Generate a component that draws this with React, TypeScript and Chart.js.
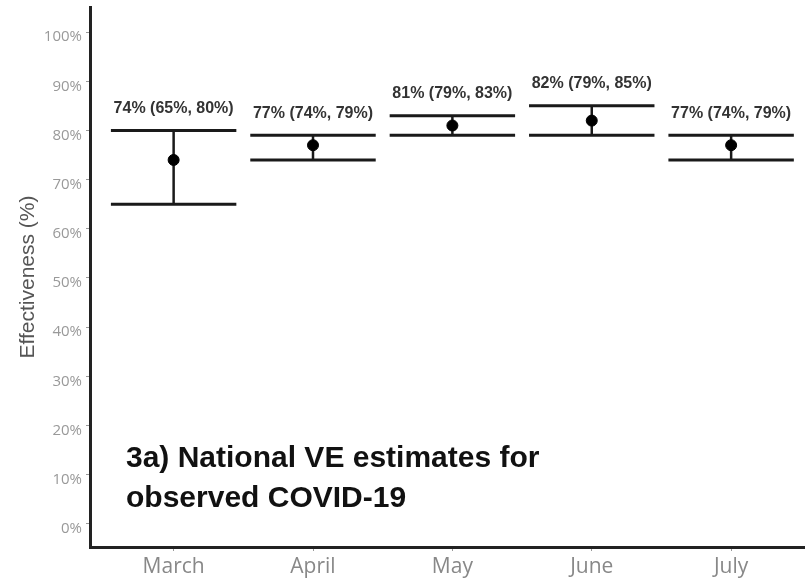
import React, { useEffect, useRef } from "react";
import { Chart, registerables } from "chart.js";

Chart.register(...registerables);

const months = ["March", "April", "May", "June", "July"];
const estimates = [74, 77, 81, 82, 77];
const lowerCI = [65, 74, 79, 79, 74];
const upperCI = [80, 79, 83, 85, 79];
const yTickValues = [0, 10, 20, 30, 40, 50, 60, 70, 80, 90, 100];
const annotationLines = ["3a) National VE estimates for", "observed COVID-19"];

const errorBarPlugin = {
  id: "errorBars",
  beforeDatasetsDraw(chart: any) {
    const { ctx, scales } = chart;
    const xs = scales.x;
    const ys = scales.y;
    ctx.save();
    ctx.strokeStyle = "#1a1a1a";
    ctx.lineCap = "butt";
    months.forEach((_, i) => {
      const xc = xs.getPixelForValue(i);
      const xl = xs.getPixelForValue(i - 0.45);
      const xr = xs.getPixelForValue(i + 0.45);
      const yl = ys.getPixelForValue(lowerCI[i]);
      const yu = ys.getPixelForValue(upperCI[i]);
      ctx.lineWidth = 2.5;
      ctx.beginPath();
      ctx.moveTo(xc, yl);
      ctx.lineTo(xc, yu);
      ctx.stroke();
      ctx.lineWidth = 3;
      ctx.beginPath();
      ctx.moveTo(xl, yu);
      ctx.lineTo(xr, yu);
      ctx.moveTo(xl, yl);
      ctx.lineTo(xr, yl);
      ctx.stroke();
    });
    ctx.restore();
  },
  afterDatasetsDraw(chart: any) {
    const { ctx, scales, chartArea } = chart;
    const xs = scales.x;
    const ys = scales.y;
    ctx.save();
    ctx.fillStyle = "#333";
    ctx.font = "bold 16px 'Liberation Sans', Arial, sans-serif";
    ctx.textAlign = "center";
    ctx.textBaseline = "middle";
    months.forEach((_, i) => {
      const label = `${estimates[i]}% (${lowerCI[i]}%, ${upperCI[i]}%)`;
      ctx.fillText(label, xs.getPixelForValue(i), ys.getPixelForValue(upperCI[i]) - 22);
    });
    ctx.fillStyle = "#111";
    ctx.font = "bold 30px 'Liberation Sans', Arial, sans-serif";
    ctx.textAlign = "left";
    ctx.textBaseline = "alphabetic";
    ctx.fillText(annotationLines[0], chartArea.left + 36, chartArea.bottom - 80);
    ctx.fillText(annotationLines[1], chartArea.left + 36, chartArea.bottom - 40);
    ctx.restore();
  },
};

export default function App() {
  const canvasRef = useRef<HTMLCanvasElement | null>(null);

  useEffect(() => {
    if (!canvasRef.current) return;
    const chart = new Chart(canvasRef.current, {
      type: "scatter",
      data: {
        datasets: [
          {
            label: "VE estimate",
            data: estimates.map((v, i) => ({ x: i, y: v })),
            backgroundColor: "#000",
            borderColor: "#000",
            pointRadius: 5.5,
            pointHoverRadius: 5.5,
          },
        ],
      },
      options: {
        animation: false,
        responsive: false,
        devicePixelRatio: 1,
        layout: { autoPadding: false, padding: { top: 7, right: 0, left: 0, bottom: 0 } },
        plugins: {
          legend: { display: false },
          tooltip: { enabled: false },
        },
        scales: {
          x: {
            type: "linear",
            min: -0.6,
            max: 4.53,
            afterBuildTicks: (scale: any) => {
              scale.ticks = months.map((_, i) => ({ value: i }));
            },
            afterFit: (scale: any) => {
              scale.height = 31;
              scale.paddingLeft = 0;
              scale.paddingRight = 0;
            },
            border: { display: true, color: "#222", width: 3 },
            grid: {
              display: true,
              drawOnChartArea: false,
              drawTicks: true,
              tickLength: 4,
              color: "#999",
            },
            ticks: {
              autoSkip: false,
              maxRotation: 0,
              padding: 3,
              color: "#888",
              font: { family: "'Open Sans', sans-serif", size: 21 },
              callback: (v: any) => months[v] ?? "",
            },
          },
          y: {
            type: "linear",
            min: -4.7,
            max: 105.1,
            afterBuildTicks: (scale: any) => {
              scale.ticks = yTickValues.map((v) => ({ value: v }));
            },
            afterFit: (scale: any) => {
              scale.width = 90;
              scale.paddingTop = 0;
              scale.paddingBottom = 0;
            },
            border: { display: true, color: "#222", width: 3 },
            grid: {
              display: true,
              drawOnChartArea: false,
              drawTicks: true,
              tickLength: 4,
              color: "#999",
            },
            ticks: {
              padding: 4,
              color: "#999",
              font: { family: "'Open Sans', sans-serif", size: 15, lineHeight: "10px" },
              callback: (v: any) => ["", `${v}%`],
            },
            title: {
              display: true,
              text: "Effectiveness (%)",
              color: "#555",
              font: { family: "'Liberation Sans', Arial, sans-serif", size: 21 },
              padding: { top: 16, bottom: 0 },
            },
          },
        },
      },
      plugins: [errorBarPlugin],
    });
    return () => chart.destroy();
  }, []);

  return (
    <div style={{ position: "absolute", left: 0, top: 0, width: 805, height: 578, background: "#fff" }}>
      <canvas ref={canvasRef} width={805} height={578} />
    </div>
  );
}
